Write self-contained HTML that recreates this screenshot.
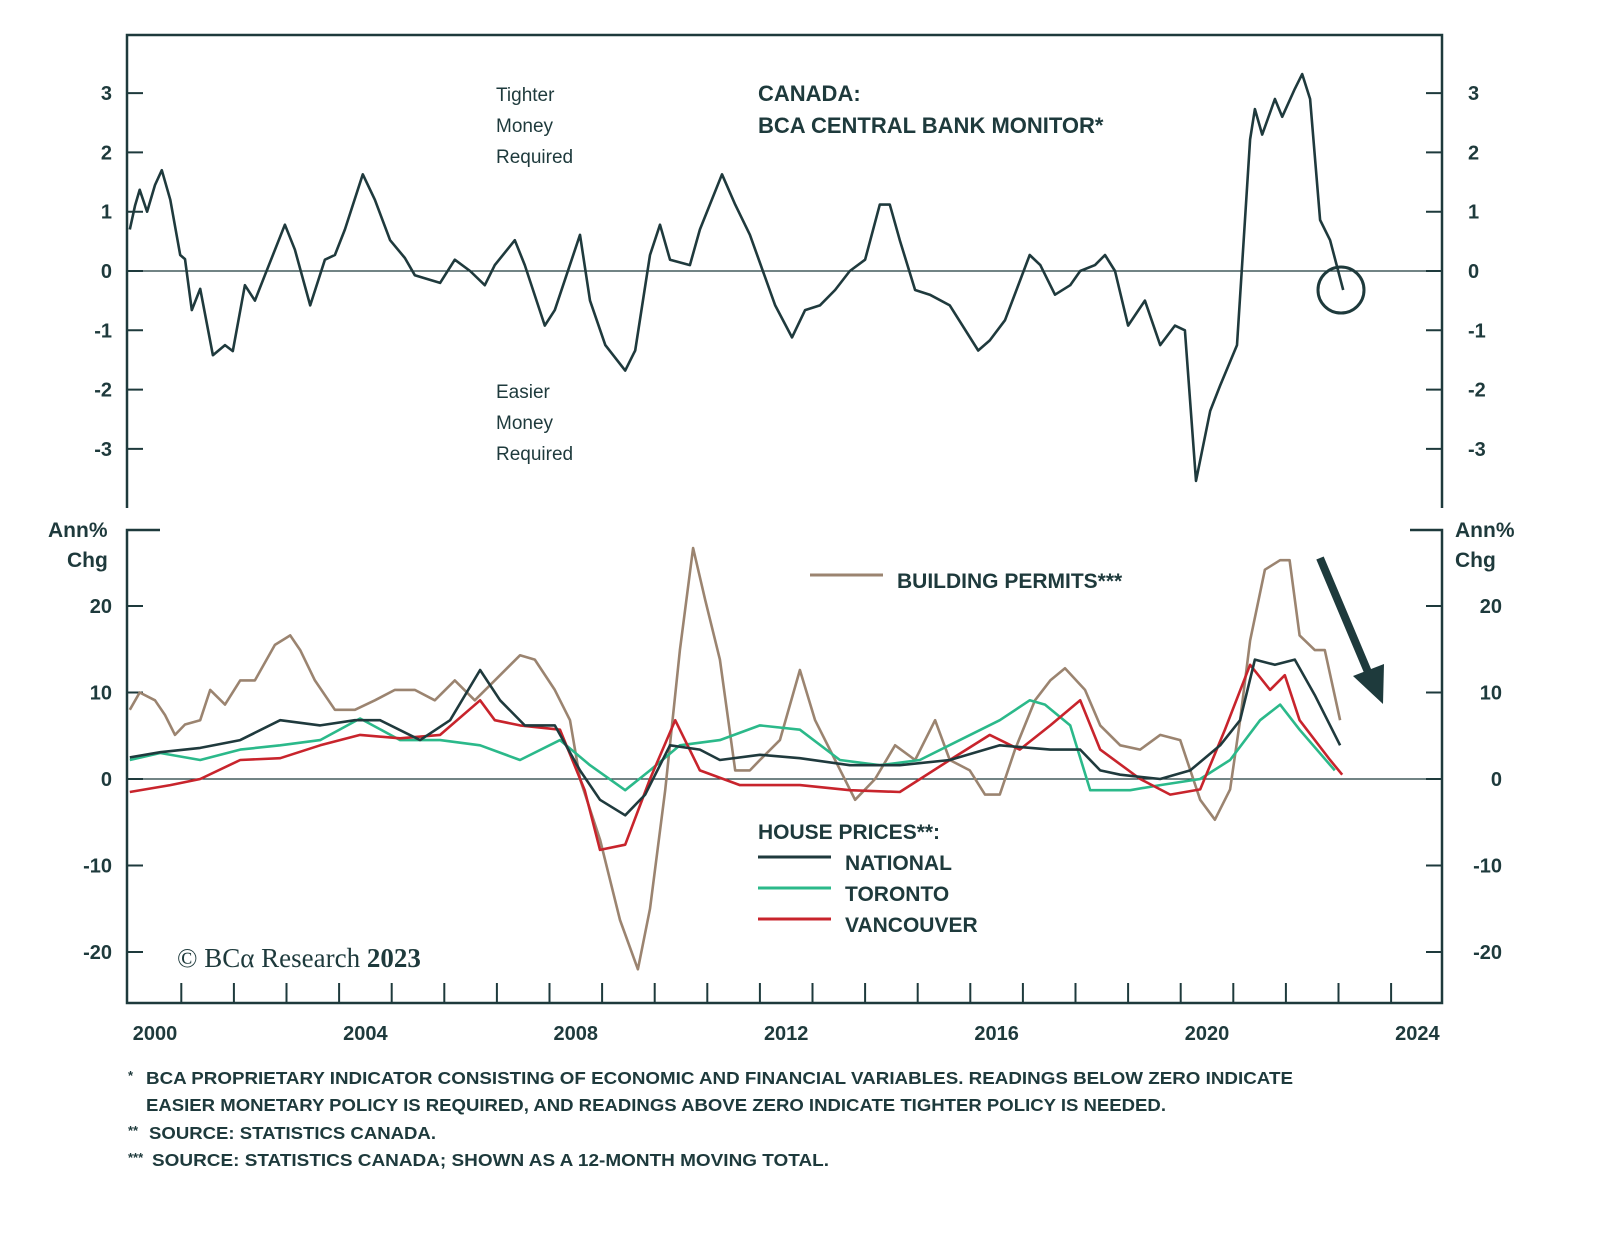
<!DOCTYPE html>
<html><head><meta charset="utf-8"><style>
body{margin:0;background:#fff}
svg text{font-family:"Liberation Sans",sans-serif;fill:#1e3a3c}
</style></head><body>
<svg id="c" width="1600" height="1233" viewBox="0 0 1600 1233" xmlns="http://www.w3.org/2000/svg">
<g id="frame" stroke="#1e3a3c" stroke-width="2.5" fill="none">
<path d="M127,508 V35 H1442 V508"/>
<path d="M160,530 H127 V1003 H1442 V530 H1410"/>
</g>
<g id="ticks" stroke="#1e3a3c" stroke-width="2"></g>
<g id="labels" font-size="20" font-weight="bold"></g>
<g id="series"></g>
<text x="496" y="101" font-size="19">Tighter</text>
<text x="496" y="132" font-size="19">Money</text>
<text x="496" y="163" font-size="19">Required</text>
<text x="496" y="398" font-size="19">Easier</text>
<text x="496" y="429" font-size="19">Money</text>
<text x="496" y="460" font-size="19">Required</text>
<text x="758" y="101" font-size="22" font-weight="bold">CANADA:</text>
<text x="758" y="133" font-size="22" font-weight="bold">BCA CENTRAL BANK MONITOR*</text>
<text x="48" y="537" font-size="21" font-weight="bold">Ann%</text>
<text x="67" y="567" font-size="21" font-weight="bold">Chg</text>
<text x="1455" y="537" font-size="21" font-weight="bold">Ann%</text>
<text x="1455" y="567" font-size="21" font-weight="bold">Chg</text>
<g><line x1="810" y1="575" x2="883" y2="575" stroke="#9b8470" stroke-width="3"/><text x="897" y="588" font-size="21" font-weight="bold">BUILDING PERMITS***</text></g>
<text x="758" y="839" font-size="21" font-weight="bold">HOUSE PRICES**:</text>
<g><line x1="758" y1="857" x2="831" y2="857" stroke="#1f3a3d" stroke-width="3"/><text x="845" y="870" font-size="21" font-weight="bold">NATIONAL</text></g>
<g><line x1="758" y1="888" x2="831" y2="888" stroke="#2bb98a" stroke-width="3"/><text x="845" y="901" font-size="21" font-weight="bold">TORONTO</text></g>
<g><line x1="758" y1="919" x2="831" y2="919" stroke="#c8242c" stroke-width="3"/><text x="845" y="932" font-size="21" font-weight="bold">VANCOUVER</text></g>
<text x="177" y="967" font-size="27" style="font-family:'Liberation Serif',serif">© BCα Research <tspan font-weight="bold">2023</tspan></text>
<circle cx="1341" cy="290" r="23" fill="none" stroke="#1e3a3c" stroke-width="3"/>
<g><line x1="1320" y1="558" x2="1368" y2="672" stroke="#1e3a3c" stroke-width="8"/><polygon points="1353,676 1383,704 1384,664" fill="#1e3a3c"/></g>
<g font-size="17.5" font-weight="bold">
<text x="128" y="1080" font-size="13">*</text>
<text x="146" y="1084" textLength="1147" lengthAdjust="spacingAndGlyphs">BCA PROPRIETARY INDICATOR CONSISTING OF ECONOMIC AND FINANCIAL VARIABLES. READINGS BELOW ZERO INDICATE</text>
<text x="146" y="1111" textLength="1020" lengthAdjust="spacingAndGlyphs">EASIER MONETARY POLICY IS REQUIRED, AND READINGS ABOVE ZERO INDICATE TIGHTER POLICY IS NEEDED.</text>
<text x="128" y="1135" font-size="13">**</text>
<text x="149" y="1139" textLength="287" lengthAdjust="spacingAndGlyphs">SOURCE: STATISTICS CANADA.</text>
<text x="128" y="1162" font-size="13">***</text>
<text x="152" y="1166" textLength="677" lengthAdjust="spacingAndGlyphs">SOURCE: STATISTICS CANADA; SHOWN AS A 12-MONTH MOVING TOTAL.</text>
</g>
</svg>
<script>
const topTicks=[3,2,1,0,-1,-2,-3];
const botTicks=[20,10,0,-10,-20];
const yearLabels=[2000,2004,2008,2012,2016,2020,2024];
const cbmYears=[1999.52,1999.62,1999.71,1999.85,2000,2000.13,2000.29,2000.48,2000.57,2000.70,2000.86,2001.10,2001.33,2001.48,2001.71,2001.90,2002.09,2002.47,2002.66,2002.95,2003.23,2003.42,2003.61,2003.95,2004.18,2004.47,2004.75,2004.94,2005.23,2005.42,2005.70,2005.99,2006.27,2006.46,2006.84,2007.03,2007.41,2007.60,2008.08,2008.27,2008.56,2008.94,2009.13,2009.41,2009.60,2009.79,2010.17,2010.36,2010.78,2011.03,2011.31,2011.79,2012.11,2012.36,2012.64,2012.93,2013.21,2013.50,2013.78,2013.97,2014.16,2014.45,2014.73,2015.11,2015.65,2015.87,2016.16,2016.63,2016.83,2017.11,2017.40,2017.59,2017.87,2018.06,2018.25,2018.50,2018.82,2019.11,2019.39,2019.58,2019.79,2020.06,2020.25,2020.57,2020.82,2020.91,2021.05,2021.29,2021.43,2021.67,2021.81,2021.96,2022.15,2022.34,2022.59];
const cbmValues=[0.7,1.1,1.37,1.0,1.45,1.7,1.2,0.27,0.2,-0.66,-0.3,-1.42,-1.25,-1.35,-0.24,-0.5,-0.07,0.78,0.36,-0.58,0.19,0.27,0.7,1.63,1.2,0.52,0.22,-0.07,-0.15,-0.2,0.19,0,-0.24,0.1,0.52,0.1,-0.92,-0.66,0.61,-0.5,-1.25,-1.68,-1.34,0.27,0.78,0.19,0.1,0.7,1.63,1.12,0.61,-0.58,-1.12,-0.66,-0.58,-0.32,0,0.19,1.12,1.12,0.52,-0.32,-0.4,-0.58,-1.34,-1.17,-0.83,0.27,0.1,-0.4,-0.24,0,0.1,0.27,0,-0.92,-0.5,-1.25,-0.92,-1.0,-3.54,-2.36,-1.93,-1.25,2.22,2.73,2.3,2.9,2.6,3.07,3.32,2.9,0.86,0.52,-0.32];
const permitYears=[1999.52,1999.71,2000,2000.19,2000.38,2000.57,2000.86,2001.05,2001.33,2001.62,2001.90,2002.28,2002.57,2002.76,2003.04,2003.42,2003.80,2004.18,2004.56,2004.94,2005.32,2005.70,2006.08,2006.46,2006.94,2007.22,2007.60,2007.89,2008.08,2008.46,2008.84,2009.18,2009.41,2009.70,2009.98,2010.23,2010.46,2010.74,2011.03,2011.31,2011.50,2011.88,2012.26,2012.55,2012.93,2013.31,2013.69,2014.07,2014.45,2014.83,2015.11,2015.49,2015.78,2016.06,2016.35,2016.73,2017.02,2017.30,2017.68,2017.97,2018.35,2018.73,2019.11,2019.49,2019.87,2020.15,2020.44,2020.63,2020.82,2021.10,2021.39,2021.57,2021.76,2022.05,2022.24,2022.53];
const permitValues=[8,10,9.1,7.4,5.1,6.3,6.8,10.3,8.6,11.4,11.4,15.5,16.6,14.9,11.4,8,8,9.1,10.3,10.3,9.1,11.4,9.1,11.4,14.3,13.8,10.3,6.8,0,-7,-16.3,-22,-15,-1.3,14.9,26.7,20.7,13.8,1,1,2.2,4.5,12.6,6.8,2.2,-2.4,0,3.9,2.2,6.8,2.2,1,-1.8,-1.8,3.4,9.1,11.4,12.8,10.3,6.2,3.9,3.4,5.1,4.5,-2.4,-4.7,-1.2,6.8,16,24.2,25.3,25.3,16.6,14.9,14.9,6.8];
const natYears=[1999.52,2000.10,2000.86,2001.62,2002.38,2003.14,2003.80,2004.28,2005.04,2005.61,2006.18,2006.56,2007.03,2007.60,2008.08,2008.46,2008.94,2009.32,2009.79,2010.36,2010.74,2011.50,2012.26,2013.21,2014.16,2015.11,2016.06,2017.02,2017.59,2017.97,2018.35,2019.11,2019.68,2020.25,2020.63,2020.91,2021.29,2021.67,2022.05,2022.53];
const natValues=[2.5,3.1,3.6,4.5,6.8,6.2,6.8,6.8,4.5,6.8,12.6,9.1,6.2,6.2,1,-2.4,-4.2,-1.8,3.9,3.4,2.2,2.8,2.4,1.6,1.6,2.2,3.9,3.4,3.4,1,0.5,0,1,3.9,6.8,13.8,13.2,13.8,9.7,3.9];
const torYears=[1999.52,2000.10,2000.86,2001.62,2002.38,2003.14,2003.90,2004.66,2005.42,2006.18,2006.94,2007.70,2008.27,2008.94,2009.41,2009.98,2010.74,2011.50,2012.26,2013.02,2013.78,2014.54,2015.30,2016.06,2016.63,2016.92,2017.40,2017.78,2018.54,2019.11,2019.87,2020.44,2021.01,2021.39,2021.76,2022.43];
const torValues=[2.2,3,2.2,3.4,3.9,4.5,7,4.5,4.5,3.9,2.2,4.5,1.6,-1.3,1,3.9,4.5,6.2,5.7,2.2,1.6,2.2,4.5,6.8,9.1,8.6,6.2,-1.3,-1.3,-0.7,0,2.2,6.8,8.6,5.7,1];
const vanYears=[1999.52,2000.29,2000.86,2001.62,2002.38,2003.14,2003.90,2004.66,2005.42,2006.18,2006.46,2006.94,2007.70,2008.17,2008.46,2008.94,2009.41,2009.89,2010.36,2011.12,2012.26,2013.21,2014.16,2015.11,2015.87,2016.44,2017.02,2017.59,2017.97,2018.73,2019.30,2019.87,2020.34,2020.82,2021.20,2021.48,2021.76,2022.34,2022.57];
const vanValues=[-1.5,-0.7,0,2.2,2.4,3.9,5.1,4.7,5.1,9.1,6.8,6.2,5.7,-1.3,-8.2,-7.6,0,6.8,1,-0.7,-0.7,-1.3,-1.5,2.2,5.1,3.4,6.2,9.1,3.4,0,-1.8,-1.2,5.7,13.2,10.3,12,6.8,2.2,0.5];

const NS='http://www.w3.org/2000/svg';
const xS=y=>155+(y-2000)*52.6;
const yTop=v=>271-v*59.3;
const yBot=v=>779-v*8.65;
function mk(tag,attrs,parent){const e=document.createElementNS(NS,tag);for(const k in attrs)e.setAttribute(k,attrs[k]);parent.appendChild(e);return e;}
const ticks=document.getElementById('ticks'),labels=document.getElementById('labels'),series=document.getElementById('series');
topTicks.forEach(v=>{const y=yTop(v);
 let t=mk('path',{d:`M127,${y}H143M1426,${y}H1442`},ticks);
 
 
 let a=mk('text',{x:112,y:y+7,'text-anchor':'end'},labels);a.textContent=v;
 
 
 let b=mk('text',{x:1468,y:y+7},labels);b.textContent=v;
 
 
});
botTicks.forEach(v=>{const y=yBot(v);
 let t=mk('path',{d:`M127,${y}H143M1426,${y}H1442`},ticks);
 
 
 let a=mk('text',{x:112,y:y+7,'text-anchor':'end'},labels);a.textContent=v;
 
 
 let b=mk('text',{x:1502,y:y+7,'text-anchor':'end'},labels);b.textContent=v;
 
 
});
for(let yr=2000;yr<2024;yr++){const x=xS(yr+0.5);
 let t=mk('path',{d:`M${x},1003V983`},ticks);
 
 
}
yearLabels.forEach(yr=>{let a=mk('text',{x:xS(yr),y:1040,'text-anchor':'middle'},labels);a.textContent=yr;
 
 
});
let z1=mk('line',{x1:127,x2:1442,y1:yTop(0),y2:yTop(0),stroke:'#1e3a3c','stroke-width':1.3},series);


let z2=mk('line',{x1:127,x2:1442,y1:yBot(0),y2:yBot(0),stroke:'#1e3a3c','stroke-width':1.3},series);


function line(xs,vs,ys,color,name,w){
 const d=xs.map((x,i)=>(i?'L':'M')+xS(x).toFixed(1)+','+ys(vs[i]).toFixed(1)).join('');
 const p=mk('path',{d:d,fill:'none',stroke:color,'stroke-width':w,'stroke-linejoin':'round'},series);
 
 
}
line(permitYears,permitValues,yBot,'#9b8470','building-permits-line',2.6);
line(torYears,torValues,yBot,'#2bb98a','toronto-line',2.6);
line(vanYears,vanValues,yBot,'#c8242c','vancouver-line',2.6);
line(natYears,natValues,yBot,'#1f3a3d','national-line',2.6);
line(cbmYears,cbmValues,yTop,'#1f3a3d','central-bank-monitor-line',2.6);
</script>
</body></html>
